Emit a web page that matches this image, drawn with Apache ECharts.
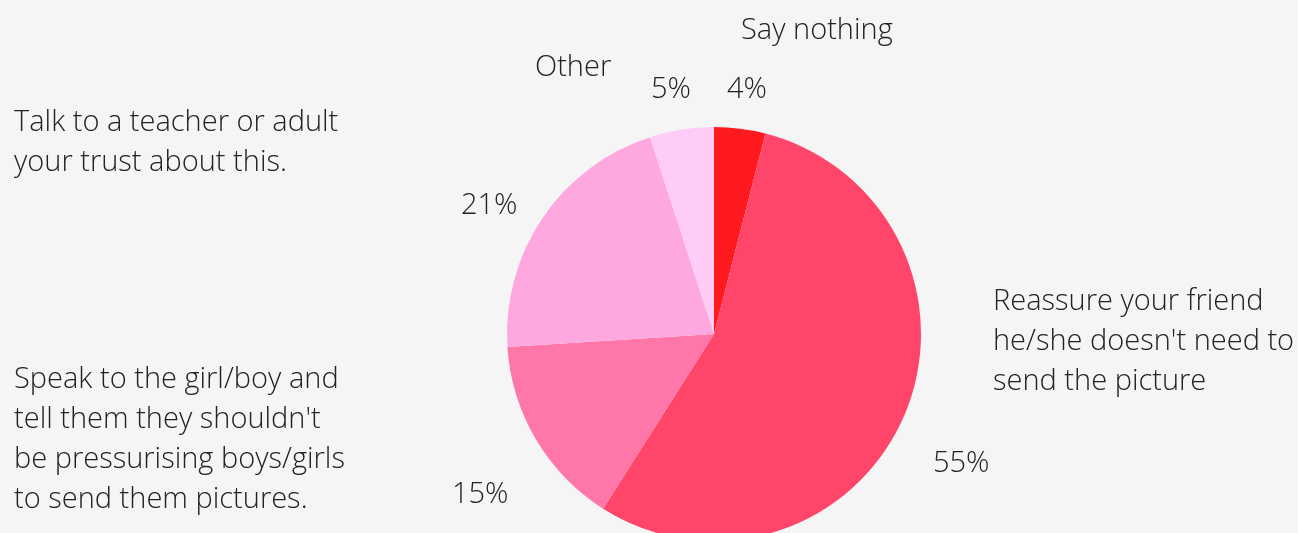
<!DOCTYPE html>
<html>
<head>
<meta charset="utf-8">
<script src="https://cdn.jsdelivr.net/npm/echarts@6/dist/echarts.min.js"></script>
<style>
  html, body { margin: 0; padding: 0; background: #f5f5f5; }
  #chart { width: 1298px; height: 533px; }
</style>
</head>
<body>
<div id="chart"></div>
<script>
// Responses, clockwise from 12 o'clock
const categories = [
  'Say nothing',
  'Reassure your friend\nhe/she doesn\'t need to\nsend the picture',
  'Speak to the girl/boy and\ntell them they shouldn\'t\nbe pressurising boys/girls\nto send them pictures.',
  'Talk to a teacher or adult\nyour trust about this.',
  'Other'
];
const percentages = [4, 55, 15, 21, 5];
const sliceColors = ['#ff1a1f', '#ff4569', '#ff77a8', '#ffa8e0', '#ffccf7'];

// Where each percentage and each category caption sits (left edge, vertical middle)
const valueLabelPos = [[727, 90], [933, 464], [452, 495], [461, 206], [651, 90]];
const captionPos = [[741, 31], [993, 342], [14, 440], [14, 143], [535, 68]];

const FONT = '"Open Sans", "DejaVu Sans", sans-serif';
const TEXT_COLOR = '#222222';

const chart = echarts.init(document.getElementById('chart'), null, { renderer: 'canvas' });

chart.setOption({
  backgroundColor: '#f5f5f5',
  animation: false,
  series: [{
    type: 'pie',
    center: [714, 334],
    radius: 207,
    startAngle: 90,
    clockwise: true,
    avoidLabelOverlap: false,
    data: categories.map((name, i) => ({
      name: name,
      value: percentages[i],
      itemStyle: { color: sliceColors[i] }
    })),
    itemStyle: { borderWidth: 0 },
    emphasis: { disabled: true },
    label: {
      show: true,
      position: 'outside',
      formatter: p => p.value + '%',
      fontFamily: FONT,
      fontWeight: 300,
      fontSize: 29,
      color: TEXT_COLOR
    },
    labelLine: { show: false },
    labelLayout: p => ({
      x: valueLabelPos[p.dataIndex][0],
      y: valueLabelPos[p.dataIndex][1],
      align: 'left',
      verticalAlign: 'middle'
    })
  }],
  graphic: categories.map((name, i) => ({
    type: 'text',
    x: captionPos[i][0],
    y: captionPos[i][1],
    style: {
      text: name,
      fontFamily: FONT,
      fontWeight: 300,
      fontSize: 29,
      lineHeight: 40,
      fill: TEXT_COLOR,
      textAlign: 'left',
      textVerticalAlign: 'middle'
    }
  }))
});
</script>
</body>
</html>
